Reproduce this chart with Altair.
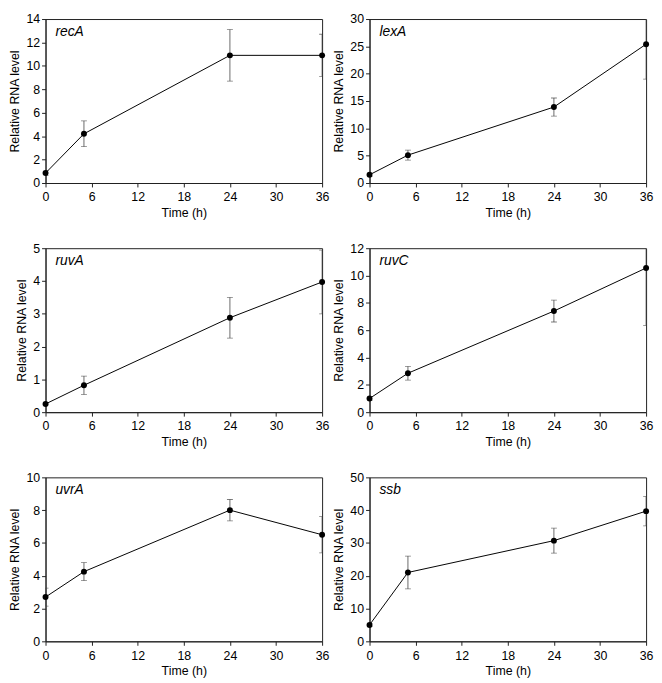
import altair as alt
import pandas as pd

times = [0, 5, 24, 36]

genes = ["recA", "lexA", "ruvA", "ruvC", "uvrA", "ssb"]

recA_mean = [0.85, 4.2, 10.9, 10.9]
recA_err = [0.2, 1.1, 2.2, 1.8]
lexA_mean = [1.5, 5.1, 13.9, 25.4]
lexA_err = [0.3, 0.9, 1.65, 6.4]
ruvA_mean = [0.25, 0.82, 2.88, 3.97]
ruvA_err = [0.03, 0.28, 0.62, 0.97]
ruvC_mean = [1.0, 2.85, 7.4, 10.55]
ruvC_err = [0.15, 0.5, 0.8, 4.2]
uvrA_mean = [2.7, 4.25, 8.0, 6.5]
uvrA_err = [0.55, 0.55, 0.65, 1.1]
ssb_mean = [5.0, 21.0, 30.7, 39.7]
ssb_err = [0.5, 5.0, 3.8, 4.5]

y_max = [14, 30, 5, 12, 10, 50]
y_step = [2, 5, 1, 2, 2, 10]
x_ticks = [0, 6, 12, 18, 24, 30, 36]

means = [recA_mean, lexA_mean, ruvA_mean, ruvC_mean, uvrA_mean, ssb_mean]
errs = [recA_err, lexA_err, ruvA_err, ruvC_err, uvrA_err, ssb_err]

W, H = 280, 166


def panel(name, mean, err, ymax, ystep):
    df = pd.DataFrame({
        "t": times,
        "m": mean,
        "lo": [m - e for m, e in zip(mean, err)],
        "hi": [m + e for m, e in zip(mean, err)],
    })
    xs = alt.Scale(domain=[0, 36], nice=False)
    ys = alt.Scale(domain=[0, ymax], nice=False)
    yvals = list(range(0, ymax + 1, ystep))
    xax = alt.Axis(values=x_ticks, title="Time (h)")
    yax = alt.Axis(values=yvals, title="Relative RNA level")
    x = alt.X("t:Q", scale=xs, axis=xax)

    def Y(f):
        return alt.Y(f, scale=ys, axis=yax)

    base = alt.Chart(df)
    line = base.mark_line(color="black", strokeWidth=1, clip=True).encode(
        x=x, y=Y("m:Q"))
    rule = base.mark_rule(color="#444", strokeWidth=0.8, clip=True).encode(
        x=x, y=Y("lo:Q"), y2="hi:Q")
    cap_lo = base.mark_tick(color="#444", orient="horizontal", size=6,
                            thickness=0.8, clip=True).encode(x=x, y=Y("lo:Q"))
    cap_hi = base.mark_tick(color="#444", orient="horizontal", size=6,
                            thickness=0.8, clip=True).encode(x=x, y=Y("hi:Q"))
    pts = base.mark_circle(color="black", size=36, opacity=1).encode(
        x=x, y=Y("m:Q"))
    label = alt.Chart(pd.DataFrame({"g": [name]})).mark_text(
        align="left", baseline="middle", fontStyle="italic", fontSize=14,
        font="Liberation Sans", color="black"
    ).encode(x=alt.value(10), y=alt.value(13), text="g:N")
    return alt.layer(line, rule, cap_lo, cap_hi, pts, label).properties(
        width=W, height=H)


panels = [panel(g, m, e, ym, st)
          for g, m, e, ym, st in zip(genes, means, errs, y_max, y_step)]

rows = [alt.hconcat(panels[i], panels[i + 1], spacing=2) for i in (0, 2, 4)]
chart = alt.vconcat(*rows, spacing=22).properties(
    padding={"left": 0, "top": 0, "right": 0, "bottom": 0}
).configure(
    font="Liberation Sans"
).configure_view(
    stroke="#222", strokeWidth=1
).configure_axis(
    grid=False, domainColor="#222", tickColor="#222", tickSize=4,
    labelColor="black", titleColor="black", labelFontSize=12.5,
    titleFontSize=12.5, titleFontWeight="normal", labelPadding=2,
    titlePadding=4, labelFont="Liberation Sans", titleFont="Liberation Sans"
).configure_axisX(labelFlush=False, titlePadding=3, labelPadding=4)

chart.save("out.html", embed_options={"renderer": "svg", "actions": False})
